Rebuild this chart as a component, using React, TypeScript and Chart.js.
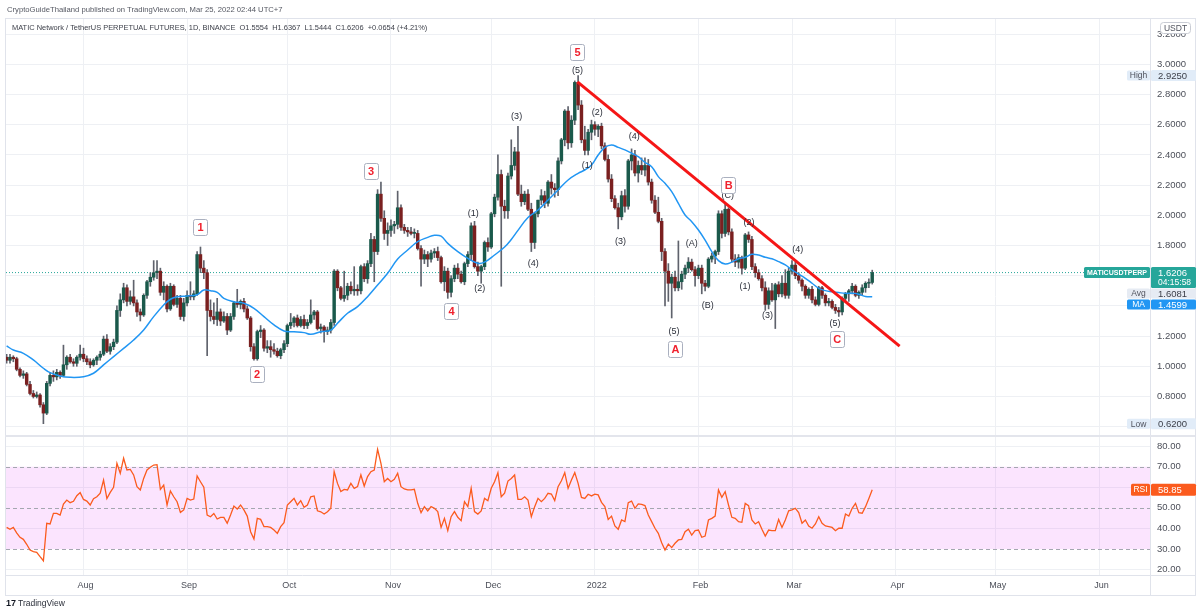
import { useEffect, useRef } from 'react';
import { Chart, registerables } from 'chart.js';

Chart.register(...registerables);

const FONT = "'Liberation Sans', Arial, sans-serif";

// Day numbers are counted from 1 Aug 2021; the first candle is 9 Jul 2021.
const FIRST_DAY = -23;

// Daily candles as [open, high, low, close]
const jul2021 = [
  [1.06, 1.08, 1.02, 1.04], [1.04, 1.08, 1.02, 1.06], [1.06, 1.07, 1.03, 1.05], [1.05, 1.06, 0.97, 0.98],
  [0.98, 0.99, 0.93, 0.94], [0.94, 0.97, 0.92, 0.95], [0.95, 0.96, 0.87, 0.88], [0.88, 0.9, 0.81, 0.82],
  [0.82, 0.84, 0.79, 0.8], [0.8, 0.83, 0.79, 0.81], [0.81, 0.82, 0.73, 0.745], [0.745, 0.76, 0.62, 0.69],
  [0.69, 0.9, 0.68, 0.887], [0.887, 0.96, 0.87, 0.94], [0.94, 0.97, 0.9, 0.93], [0.93, 0.98, 0.91, 0.96],
  [0.96, 0.97, 0.92, 0.94], [0.94, 1.14, 0.93, 1.01], [1.01, 1.07, 0.98, 1.06], [1.06, 1.08, 1.02, 1.03],
  [1.03, 1.05, 1.0, 1.02], [1.02, 1.07, 1.0, 1.06], [1.06, 1.14, 1.04, 1.08],
];
const aug2021 = [
  [1.08, 1.12, 1.03, 1.05], [1.05, 1.07, 1.01, 1.03], [1.03, 1.05, 0.99, 1.01], [1.01, 1.05, 1.0, 1.04],
  [1.04, 1.07, 1.01, 1.06], [1.06, 1.1, 1.04, 1.08], [1.08, 1.2, 1.07, 1.18], [1.18, 1.21, 1.09, 1.1],
  [1.1, 1.15, 1.08, 1.13], [1.13, 1.18, 1.11, 1.16], [1.16, 1.4, 1.15, 1.37], [1.37, 1.48, 1.33, 1.44],
  [1.44, 1.55, 1.42, 1.52], [1.52, 1.54, 1.4, 1.43], [1.43, 1.5, 1.41, 1.46], [1.46, 1.57, 1.4, 1.42],
  [1.42, 1.44, 1.33, 1.36], [1.36, 1.38, 1.3, 1.34], [1.34, 1.48, 1.33, 1.47], [1.47, 1.57, 1.45, 1.56],
  [1.56, 1.62, 1.53, 1.59], [1.59, 1.7, 1.57, 1.62], [1.62, 1.7, 1.58, 1.63], [1.63, 1.65, 1.47, 1.49],
  [1.49, 1.56, 1.44, 1.53], [1.53, 1.54, 1.36, 1.38], [1.38, 1.55, 1.37, 1.53], [1.53, 1.54, 1.4, 1.41],
  [1.41, 1.47, 1.39, 1.45], [1.45, 1.47, 1.31, 1.33], [1.33, 1.45, 1.3, 1.42],
];
const sep2021 = [
  [1.42, 1.5, 1.4, 1.47], [1.47, 1.56, 1.44, 1.46], [1.46, 1.5, 1.44, 1.48], [1.48, 1.76, 1.47, 1.74],
  [1.74, 1.79, 1.62, 1.65], [1.65, 1.7, 1.58, 1.62], [1.62, 1.64, 1.07, 1.37], [1.37, 1.44, 1.3, 1.33],
  [1.33, 1.42, 1.28, 1.31], [1.31, 1.45, 1.27, 1.36], [1.36, 1.38, 1.27, 1.3], [1.3, 1.36, 1.29, 1.33],
  [1.33, 1.35, 1.21, 1.24], [1.24, 1.35, 1.23, 1.33], [1.33, 1.43, 1.31, 1.42], [1.42, 1.51, 1.39, 1.41],
  [1.41, 1.44, 1.38, 1.43], [1.43, 1.45, 1.36, 1.38], [1.38, 1.4, 1.31, 1.32], [1.32, 1.33, 1.1, 1.13],
  [1.13, 1.15, 1.04, 1.05], [1.05, 1.24, 1.04, 1.23], [1.23, 1.27, 1.19, 1.24], [1.24, 1.25, 1.1, 1.12],
  [1.12, 1.17, 1.09, 1.13], [1.13, 1.17, 1.06, 1.11], [1.11, 1.15, 1.08, 1.1], [1.1, 1.12, 1.06, 1.07],
  [1.07, 1.12, 1.05, 1.11], [1.11, 1.17, 1.09, 1.15],
];
const oct2021 = [
  [1.15, 1.28, 1.13, 1.27], [1.27, 1.35, 1.25, 1.29], [1.29, 1.33, 1.26, 1.32], [1.32, 1.34, 1.26, 1.27],
  [1.27, 1.33, 1.26, 1.31], [1.31, 1.34, 1.25, 1.27], [1.27, 1.31, 1.25, 1.29], [1.29, 1.44, 1.28, 1.34],
  [1.34, 1.37, 1.31, 1.36], [1.36, 1.37, 1.24, 1.25], [1.25, 1.28, 1.22, 1.26], [1.26, 1.27, 1.16, 1.23],
  [1.23, 1.26, 1.21, 1.24], [1.24, 1.31, 1.22, 1.29], [1.29, 1.64, 1.27, 1.63], [1.63, 1.64, 1.5, 1.52],
  [1.52, 1.53, 1.44, 1.45], [1.45, 1.63, 1.43, 1.47], [1.47, 1.55, 1.44, 1.53], [1.53, 1.56, 1.48, 1.5],
  [1.5, 1.66, 1.47, 1.51], [1.51, 1.54, 1.47, 1.5], [1.5, 1.67, 1.48, 1.66], [1.66, 1.68, 1.56, 1.58],
  [1.58, 1.7, 1.55, 1.68], [1.68, 1.88, 1.66, 1.84], [1.84, 1.86, 1.56, 1.76], [1.76, 2.17, 1.74, 2.14],
  [2.14, 2.22, 1.96, 1.98], [1.98, 2.03, 1.84, 1.88], [1.88, 1.95, 1.8, 1.9],
];
const nov2021 = [
  [1.9, 1.97, 1.86, 1.93], [1.93, 1.96, 1.88, 1.94], [1.94, 2.16, 1.91, 2.05], [2.05, 2.07, 1.9, 1.92],
  [1.92, 1.94, 1.88, 1.9], [1.9, 1.92, 1.86, 1.89], [1.89, 1.92, 1.87, 1.88], [1.88, 1.91, 1.85, 1.88],
  [1.88, 1.9, 1.77, 1.78], [1.78, 1.8, 1.53, 1.71], [1.71, 1.77, 1.68, 1.74], [1.74, 1.76, 1.66, 1.71],
  [1.71, 1.77, 1.69, 1.75], [1.75, 1.78, 1.72, 1.76], [1.76, 1.79, 1.7, 1.72], [1.72, 1.73, 1.55, 1.56],
  [1.56, 1.66, 1.5, 1.63], [1.63, 1.65, 1.45, 1.49], [1.49, 1.6, 1.46, 1.58], [1.58, 1.67, 1.56, 1.65],
  [1.65, 1.68, 1.58, 1.61], [1.61, 1.63, 1.55, 1.56], [1.56, 1.69, 1.54, 1.68], [1.68, 1.76, 1.66, 1.74],
  [1.74, 1.95, 1.7, 1.93], [1.93, 1.96, 1.65, 1.66], [1.66, 1.69, 1.6, 1.63], [1.63, 1.67, 1.55, 1.66],
  [1.66, 1.83, 1.64, 1.82], [1.82, 1.85, 1.76, 1.79],
];
const dec2021 = [
  [1.79, 2.02, 1.78, 2.01], [2.01, 2.14, 1.99, 2.12], [2.12, 2.4, 2.1, 2.27], [2.27, 2.3, 1.53, 2.06],
  [2.06, 2.1, 1.98, 2.03], [2.03, 2.28, 1.98, 2.26], [2.26, 2.5, 2.24, 2.33], [2.33, 2.45, 2.3, 2.42],
  [2.42, 2.59, 2.13, 2.14], [2.14, 2.2, 2.06, 2.09], [2.09, 2.16, 2.07, 2.14], [2.14, 2.17, 2.03, 2.04],
  [2.04, 2.08, 1.76, 1.82], [1.82, 2.02, 1.78, 2.01], [2.01, 2.1, 1.99, 2.1], [2.1, 2.17, 2.07, 2.13],
  [2.13, 2.16, 2.05, 2.08], [2.08, 2.23, 2.06, 2.22], [2.22, 2.27, 2.14, 2.18], [2.18, 2.21, 2.12, 2.17],
  [2.17, 2.38, 2.13, 2.36], [2.36, 2.51, 2.34, 2.5], [2.5, 2.7, 2.46, 2.69], [2.69, 2.72, 2.44, 2.48],
  [2.48, 2.66, 2.45, 2.63], [2.63, 2.89, 2.6, 2.88], [2.88, 2.925, 2.7, 2.73], [2.73, 2.76, 2.48, 2.5],
  [2.5, 2.59, 2.4, 2.43], [2.43, 2.57, 2.4, 2.55], [2.55, 2.63, 2.5, 2.6],
];
const jan2022 = [
  [2.6, 2.62, 2.53, 2.57], [2.57, 2.6, 2.52, 2.59], [2.59, 2.61, 2.44, 2.46], [2.46, 2.48, 2.36, 2.37],
  [2.37, 2.4, 2.22, 2.24], [2.24, 2.27, 2.09, 2.11], [2.11, 2.13, 2.04, 2.05], [2.05, 2.08, 1.91, 1.99],
  [1.99, 2.16, 1.97, 2.13], [2.13, 2.17, 2.02, 2.06], [2.06, 2.37, 2.04, 2.36], [2.36, 2.44, 2.3, 2.4],
  [2.4, 2.43, 2.26, 2.28], [2.28, 2.36, 2.22, 2.33], [2.33, 2.38, 2.27, 2.3], [2.3, 2.38, 2.26, 2.33],
  [2.33, 2.37, 2.2, 2.22], [2.22, 2.24, 2.08, 2.1], [2.1, 2.13, 2.01, 2.02], [2.02, 2.12, 1.95, 1.96],
  [1.96, 1.98, 1.7, 1.76], [1.76, 1.78, 1.4, 1.63], [1.63, 1.68, 1.43, 1.55], [1.55, 1.61, 1.32, 1.59],
  [1.59, 1.63, 1.5, 1.52], [1.52, 1.83, 1.5, 1.56], [1.56, 1.63, 1.51, 1.61], [1.61, 1.67, 1.58, 1.65],
  [1.65, 1.72, 1.62, 1.69], [1.69, 1.71, 1.63, 1.64], [1.64, 1.66, 1.53, 1.6],
];
const feb2022 = [
  [1.6, 1.67, 1.58, 1.65], [1.65, 1.67, 1.48, 1.55], [1.55, 1.57, 1.5, 1.53], [1.53, 1.72, 1.52, 1.71],
  [1.71, 1.75, 1.69, 1.73], [1.73, 1.77, 1.68, 1.76], [1.76, 2.03, 1.74, 2.01], [2.01, 2.03, 1.85, 1.88],
  [1.88, 2.08, 1.86, 2.04], [2.04, 2.05, 1.87, 1.89], [1.89, 1.91, 1.69, 1.71], [1.71, 1.74, 1.66, 1.69],
  [1.69, 1.74, 1.65, 1.72], [1.72, 1.73, 1.61, 1.65], [1.65, 1.88, 1.64, 1.87], [1.87, 1.89, 1.82, 1.84],
  [1.84, 1.86, 1.64, 1.66], [1.66, 1.68, 1.59, 1.62], [1.62, 1.64, 1.57, 1.58], [1.58, 1.6, 1.5, 1.52],
  [1.52, 1.56, 1.37, 1.41], [1.41, 1.52, 1.38, 1.5], [1.5, 1.55, 1.43, 1.44], [1.44, 1.55, 1.25, 1.54],
  [1.54, 1.56, 1.46, 1.48], [1.48, 1.6, 1.46, 1.55], [1.55, 1.64, 1.45, 1.47], [1.47, 1.65, 1.45, 1.63],
];
const mar2022 = [
  [1.63, 1.7, 1.61, 1.67], [1.67, 1.69, 1.58, 1.6], [1.6, 1.62, 1.55, 1.57], [1.57, 1.58, 1.5, 1.53],
  [1.53, 1.54, 1.45, 1.47], [1.47, 1.52, 1.45, 1.51], [1.51, 1.53, 1.42, 1.44], [1.44, 1.46, 1.4, 1.41],
  [1.41, 1.53, 1.4, 1.52], [1.52, 1.53, 1.45, 1.47], [1.47, 1.48, 1.4, 1.42], [1.42, 1.45, 1.4, 1.43],
  [1.43, 1.44, 1.38, 1.39], [1.39, 1.41, 1.35, 1.37], [1.37, 1.39, 1.33, 1.36], [1.36, 1.46, 1.34, 1.45],
  [1.45, 1.49, 1.43, 1.48], [1.48, 1.51, 1.43, 1.5], [1.5, 1.55, 1.48, 1.53], [1.53, 1.54, 1.46, 1.47],
  [1.47, 1.5, 1.45, 1.49], [1.49, 1.54, 1.47, 1.52], [1.52, 1.56, 1.49, 1.55], [1.55, 1.58, 1.52, 1.5554],
  [1.5554, 1.6367, 1.5444, 1.6206],
];

// RSI(14), one value per candle
const rsiJul = [40.5, 39.6, 40.5, 37.9, 35.7, 34.7, 32.3, 29.5, 28.7, 28.4, 26.3, 24.3, 42.5, 42.2, 47.3, 47.3, 46.5, 51.9, 53.8, 52.5, 53.2, 55.9, 57.4];
const rsiAug = [54.1, 53.3, 51.4, 54.5, 55.4, 57.1, 63.5, 54.5, 57.5, 60.0, 71.6, 66.8, 74.1, 68.4, 68.7, 66.0, 60.3, 58.7, 64.3, 68.4, 69.7, 70.8, 71.0, 59.0, 61.1, 51.4, 58.2, 55.4, 53.0, 47.8, 49.0];
const rsiSep = [54.6, 53.8, 54.3, 65.5, 62.7, 60.0, 46.5, 45.7, 47.3, 44.6, 45.4, 45.4, 42.5, 46.5, 50.9, 49.4, 51.4, 49.0, 46.0, 38.4, 34.9, 44.9, 44.4, 40.9, 40.9, 40.5, 39.2, 37.6, 40.9, 42.8];
const rsiOct = [51.4, 53.0, 54.6, 51.4, 53.5, 50.3, 51.4, 55.4, 55.8, 48.6, 48.1, 47.0, 48.1, 49.8, 67.6, 61.9, 57.9, 59.0, 58.7, 61.9, 59.5, 60.3, 66.0, 60.6, 65.2, 67.6, 68.4, 78.4, 71.6, 62.7, 64.3];
const rsiNov = [62.7, 63.9, 66.8, 60.3, 59.2, 58.7, 58.7, 59.0, 52.2, 47.7, 50.6, 48.5, 50.6, 49.8, 48.2, 40.5, 44.9, 38.9, 45.7, 48.2, 45.4, 43.8, 53.0, 50.6, 59.5, 48.2, 47.0, 48.5, 54.6, 53.5];
const rsiDec = [59.5, 62.7, 67.1, 55.4, 57.1, 63.0, 64.3, 66.0, 54.1, 54.1, 55.4, 53.8, 45.7, 50.6, 54.6, 53.0, 54.6, 57.1, 56.7, 53.5, 60.3, 63.2, 67.1, 59.5, 63.5, 67.1, 61.9, 55.1, 54.6, 56.6, 55.8];
const rsiJan = [56.7, 56.3, 52.7, 50.6, 44.4, 46.0, 41.2, 39.6, 44.1, 43.3, 52.5, 53.3, 49.8, 51.9, 51.7, 51.1, 46.5, 43.3, 40.1, 37.6, 33.1, 29.5, 32.4, 30.7, 32.8, 34.4, 34.7, 38.4, 39.6, 36.8, 38.9];
const rsiFeb = [39.2, 35.7, 36.3, 44.1, 44.9, 46.0, 58.7, 55.1, 57.9, 51.4, 45.4, 44.9, 43.3, 43.0, 52.2, 51.1, 44.1, 42.2, 43.3, 39.6, 36.3, 39.2, 38.9, 38.9, 44.4, 40.5, 44.1, 48.6];
const rsiMar = [49.0, 49.8, 47.7, 42.5, 44.1, 41.2, 40.1, 42.2, 45.7, 42.5, 41.2, 40.9, 40.5, 38.9, 40.1, 40.1, 47.0, 46.0, 49.8, 52.2, 47.7, 47.4, 50.6, 54.6, 58.85];

// Moving average, [day, value]
const maPoints = [
  [-23, 1.135], [-21, 1.108], [-18, 1.086], [-15, 1.042], [-12, 0.987], [-10, 0.958], [-7, 0.936], [-4, 0.927],
  [0, 0.931], [3, 0.954], [6, 1.009], [9, 1.064], [12, 1.119], [15, 1.174], [18, 1.241], [21, 1.329],
  [24, 1.406], [26, 1.444], [28, 1.461], [31, 1.466], [34, 1.474], [36, 1.505], [38, 1.5], [40, 1.49],
  [42, 1.45], [45, 1.428], [48, 1.417], [51, 1.384], [54, 1.329], [57, 1.274], [60, 1.234], [63, 1.229],
  [66, 1.223], [68, 1.212], [71, 1.229], [74, 1.24], [76, 1.285], [79, 1.351], [82, 1.395], [85, 1.461],
  [88, 1.538], [91, 1.616], [94, 1.71], [97, 1.77], [100, 1.825], [103, 1.854], [105, 1.868], [107, 1.862],
  [109, 1.814], [112, 1.759], [115, 1.715], [118, 1.682], [120, 1.69], [123, 1.737], [126, 1.79], [128, 1.84],
  [130, 1.9], [133, 1.985], [136, 2.035], [139, 2.101], [142, 2.168], [145, 2.234], [148, 2.278], [150, 2.3],
  [152, 2.333], [154, 2.399], [156, 2.45], [158, 2.466], [160, 2.45], [162, 2.433], [164, 2.411], [166, 2.388],
  [168, 2.35], [170, 2.322], [172, 2.256], [174, 2.212], [176, 2.157], [178, 2.079], [180, 2.002], [182, 1.958],
  [184, 1.903], [186, 1.836], [188, 1.759], [190, 1.7], [192, 1.678], [194, 1.69], [196, 1.712], [198, 1.722],
  [200, 1.742], [202, 1.737], [204, 1.722], [206, 1.712], [208, 1.693], [210, 1.671], [212, 1.638], [214, 1.611],
  [216, 1.583], [218, 1.55], [220, 1.516], [222, 1.501], [224, 1.494], [226, 1.488], [228, 1.483], [230, 1.483],
  [232, 1.477], [234, 1.462], [236, 1.4599],
];

// Falling trend line, [day, price]
const trendLine = [[147.8, 2.883], [244.2, 1.134]];

// Wave count markers, [text, day, price]
const waveBoxes = [
  ['1', 34.9, 1.924], ['2', 51.8, 0.947], ['3', 85.9, 2.295], ['4', 110.0, 1.368],
  ['5', 147.7, 3.079], ['A', 177.0, 1.112], ['B', 192.9, 2.201], ['C', 225.4, 1.181],
];
const waveLabels = [
  ['(5)', 147.8, 2.962], ['(2)', 153.7, 2.68], ['(3)', 129.6, 2.653], ['(1)', 116.6, 2.013],
  ['(4)', 134.6, 1.682], ['(2)', 118.6, 1.517], ['(1)', 150.7, 2.327], ['(3)', 160.7, 1.825],
  ['(4)', 164.8, 2.521], ['(5)', 176.7, 1.229], ['(A)', 182.0, 1.81], ['(B)', 186.8, 1.404],
  ['(C)', 192.8, 2.134], ['(2)', 199.1, 1.951], ['(1)', 197.9, 1.527], ['(3)', 204.7, 1.333],
  ['(4)', 213.7, 1.775], ['(5)', 224.9, 1.285],
];

const monthTicks = [0, 31, 61, 92, 122, 153, 184, 212, 243, 273, 304];
const monthLabels = ['Aug', 'Sep', 'Oct', 'Nov', 'Dec', '2022', 'Feb', 'Mar', 'Apr', 'May', 'Jun'];
const priceTicks = [0.6, 0.8, 1.0, 1.2, 1.4, 1.6, 1.8, 2.0, 2.2, 2.4, 2.6, 2.8, 3.0, 3.2];
const hiddenPriceLabels = [0.6, 1.4, 1.6];
const rsiTicks = [20, 30, 40, 50, 60, 70, 80];
const rsiBands = [70, 50, 30];

const LAST_PRICE = 1.6206;
const AVG_PRICE = 1.6081;
const MA_LAST = 1.4599;
const HIGH_PRICE = 2.925;
const LOW_PRICE = 0.62;
const RSI_LAST = 58.85;
const COUNTDOWN = '04:15:58';

const TITLE_1 = 'CryptoGuideThailand published on TradingView.com, Mar 25, 2022 02:44 UTC+7';
const TITLE_2 = 'MATIC Network / TetherUS PERPETUAL FUTURES, 1D, BINANCE  O1.5554  H1.6367  L1.5444  C1.6206  +0.0654 (+4.21%)';

const X_MIN = -23.19;
const X_MAX = 319.12;
const PRICE_MIN = 0.5384;
const PRICE_MAX = 3.3066;
const RSI_MIN = 17.38;
const RSI_MAX = 84.92;

const candles = [...jul2021, ...aug2021, ...sep2021, ...oct2021, ...nov2021, ...dec2021, ...jan2022, ...feb2022, ...mar2022];
const rsiValues = [...rsiJul, ...rsiAug, ...rsiSep, ...rsiOct, ...rsiNov, ...rsiDec, ...rsiJan, ...rsiFeb, ...rsiMar];

const UP = '#1a594b';
const DOWN = '#7a2020';
const WICK = '#5f626c';
const GRID = '#eef0f4';
const TEXT = '#4c4f59';

function fillTextFit(ctx: CanvasRenderingContext2D, text: string, x: number, y: number, width: number, weight = '') {
  ctx.font = `${weight} 10px ${FONT}`;
  const w = ctx.measureText(text).width;
  const size = (10 * width) / w;
  ctx.font = `${weight} ${size.toFixed(2)}px ${FONT}`;
  ctx.fillText(text, x, y);
}

function tag(ctx: CanvasRenderingContext2D, x: number, y: number, w: number, h: number, bg: string, text: string, color: string, font: string, align: 'left' | 'center' = 'center') {
  ctx.fillStyle = bg;
  ctx.beginPath();
  ctx.roundRect(x, y, w, h, 1.5);
  ctx.fill();
  ctx.fillStyle = color;
  ctx.font = font;
  ctx.textBaseline = 'middle';
  ctx.textAlign = align;
  ctx.fillText(text, align === 'center' ? x + w / 2 : x + 7, y + h / 2 + 0.5);
}

const overlay = {
  id: 'overlay',
  beforeDatasetsDraw(chart: any) {
    const { ctx, chartArea, scales } = chart;
    const r = scales.rsi;
    const y70 = r.getPixelForValue(70);
    const y30 = r.getPixelForValue(30);
    ctx.save();
    ctx.fillStyle = 'rgba(224, 64, 251, 0.14)';
    ctx.fillRect(chartArea.left, y70, chartArea.right - chartArea.left, y30 - y70);
    ctx.strokeStyle = '#a4a7b0';
    ctx.lineWidth = 1;
    ctx.setLineDash([4, 3]);
    for (const v of rsiBands) {
      const y = Math.round(r.getPixelForValue(v)) + 0.5;
      ctx.beginPath();
      ctx.moveTo(chartArea.left, y);
      ctx.lineTo(chartArea.right, y);
      ctx.stroke();
    }
    ctx.restore();
  },
  afterDatasetsDraw(chart: any) {
    const { ctx, scales } = chart;
    const xs = scales.x;
    const ys = scales.y;
    ctx.save();
    ctx.textAlign = 'center';
    ctx.textBaseline = 'middle';
    ctx.font = `9px ${FONT}`;
    ctx.fillStyle = '#2a2e39';
    for (const [text, day, price] of waveLabels) {
      ctx.fillText(text as string, xs.getPixelForValue(day), ys.getPixelForValue(price));
    }
    for (const [text, day, price] of waveBoxes) {
      const cx = xs.getPixelForValue(day);
      const cy = ys.getPixelForValue(price);
      ctx.fillStyle = '#ffffff';
      ctx.strokeStyle = '#aab0bf';
      ctx.lineWidth = 1;
      ctx.beginPath();
      ctx.roundRect(Math.round(cx - 7) + 0.5, Math.round(cy - 8) + 0.5, 14, 16, 2);
      ctx.fill();
      ctx.stroke();
      ctx.fillStyle = '#f0212e';
      ctx.font = `bold 11px ${FONT}`;
      ctx.fillText(text as string, cx + 0.5, cy + 1);
    }
    ctx.restore();
  },
  afterDraw(chart: any) {
    const { ctx, chartArea, scales } = chart;
    const ys = scales.y;
    const rs = scales.rsi;
    const W = chart.width;
    ctx.save();

    // frame and pane borders
    ctx.strokeStyle = '#e0e3eb';
    ctx.lineWidth = 1;
    ctx.strokeRect(5.5, 18.5, W - 10, 577);
    ctx.beginPath();
    ctx.moveTo(chartArea.right + 0.5, 18);
    ctx.lineTo(chartArea.right + 0.5, 596);
    ctx.moveTo(5, chartArea.bottom + 0.5);
    ctx.lineTo(W - 5, chartArea.bottom + 0.5);
    ctx.stroke();
    ctx.strokeStyle = '#e3e5ec';
    ctx.lineWidth = 2;
    ctx.beginPath();
    ctx.moveTo(5, rs.top);
    ctx.lineTo(W - 5, rs.top);
    ctx.stroke();

    // header
    ctx.textAlign = 'left';
    ctx.textBaseline = 'middle';
    ctx.fillStyle = '#555862';
    fillTextFit(ctx, TITLE_1, 7, 9.5, 276);
    ctx.fillStyle = '#3b3e48';
    fillTextFit(ctx, TITLE_2, 12, 27.5, 416);

    // price scale markers
    const axisX = chartArea.right + 1;
    const tagW = W - 4 - axisX;
    const valueFont = `9.5px ${FONT}`;
    const smallFont = `8.5px ${FONT}`;

    ctx.fillStyle = '#ffffff';
    ctx.strokeStyle = '#c9ccd4';
    ctx.lineWidth = 1;
    ctx.beginPath();
    ctx.roundRect(1160.5, 22.5, 30, 11, 3);
    ctx.fill();
    ctx.stroke();
    ctx.fillStyle = '#50535e';
    ctx.font = smallFont;
    ctx.textAlign = 'center';
    ctx.fillText('USDT', 1175.5, 28.5);

    const lightTag = '#e1ecf8';
    const highY = ys.getPixelForValue(HIGH_PRICE);
    tag(ctx, axisX - 24, highY - 5, 23, 10, lightTag, 'High', '#50535e', smallFont);
    tag(ctx, axisX, highY - 5.5, tagW, 11, lightTag, HIGH_PRICE.toFixed(4), '#3b3e48', valueFont, 'left');

    const lowY = ys.getPixelForValue(LOW_PRICE);
    tag(ctx, axisX - 24, lowY - 5, 23, 10, lightTag, 'Low', '#50535e', smallFont);
    tag(ctx, axisX, lowY - 5.5, tagW, 11, lightTag, LOW_PRICE.toFixed(4), '#3b3e48', valueFont, 'left');

    const lastY = ys.getPixelForValue(LAST_PRICE);
    ctx.fillStyle = '#26a69a';
    ctx.beginPath();
    ctx.roundRect(axisX - 67, lastY - 5.5, 66, 11, 1.5);
    ctx.fill();
    ctx.fillStyle = '#ffffff';
    ctx.textAlign = 'left';
    ctx.textBaseline = 'middle';
    fillTextFit(ctx, 'MATICUSDTPERP', axisX - 64, lastY + 0.5, 60, 'bold');
    ctx.fillStyle = '#26a69a';
    ctx.beginPath();
    ctx.roundRect(axisX, lastY - 5.5, tagW, 21, 1.5);
    ctx.fill();
    ctx.fillStyle = '#ffffff';
    ctx.textAlign = 'left';
    ctx.font = valueFont;
    ctx.fillText(LAST_PRICE.toFixed(4), axisX + 7, lastY + 0.5);
    ctx.font = `8.5px ${FONT}`;
    ctx.fillText(COUNTDOWN, axisX + 7, lastY + 10.5);

    const avgY = lastY + 21;
    tag(ctx, axisX - 24, avgY - 5, 23, 10, '#e6ebf3', 'Avg', '#50535e', smallFont);
    tag(ctx, axisX, avgY - 5, tagW, 10, '#e6ebf3', AVG_PRICE.toFixed(4), '#3b3e48', valueFont, 'left');

    const maY = avgY + 11;
    tag(ctx, axisX - 24, maY - 5, 23, 10, '#2196f3', 'MA', '#ffffff', smallFont);
    tag(ctx, axisX, maY - 5, tagW, 10, '#2196f3', MA_LAST.toFixed(4), '#ffffff', valueFont, 'left');

    const rsiY = rs.getPixelForValue(RSI_LAST);
    tag(ctx, axisX - 20, rsiY - 6, 19, 12, '#fb5b1e', 'RSI', '#ffffff', smallFont);
    tag(ctx, axisX, rsiY - 6, tagW, 12, '#fb5b1e', RSI_LAST.toFixed(2), '#ffffff', valueFont, 'left');

    // footer brand
    ctx.fillStyle = '#131722';
    ctx.textAlign = 'left';
    ctx.font = `bold 9px ${FONT}`;
    ctx.fillText('17', 6, 604);
    ctx.fillStyle = '#2a2e39';
    ctx.font = `8.5px ${FONT}`;
    ctx.fillText('TradingView', 18, 604);

    ctx.restore();
  },
};

export default function App() {
  const canvasRef = useRef<HTMLCanvasElement | null>(null);

  useEffect(() => {
    const canvas = canvasRef.current;
    if (!canvas) return;
    const days = candles.map((_, i) => FIRST_DAY + i);
    const bodies = candles.map((c, i) => ({ x: days[i], y: [c[0], c[3]] }));
    const wicks = candles.map((c, i) => ({ x: days[i], y: [c[2], c[1]] }));
    const bodyColors = candles.map((c) => (c[3] >= c[0] ? UP : DOWN));

    const chart = new Chart(canvas, {
      type: 'bar',
      data: {
        datasets: [
          {
            type: 'line',
            data: [{ x: X_MIN, y: LAST_PRICE }, { x: X_MAX, y: LAST_PRICE }],
            borderColor: '#26a69a',
            borderWidth: 1,
            borderDash: [1, 2],
            pointRadius: 0,
            yAxisID: 'y',
            order: 10,
          },
          {
            type: 'bar',
            data: wicks,
            backgroundColor: WICK,
            barThickness: 1,
            grouped: false,
            yAxisID: 'y',
            order: 9,
          },
          {
            type: 'bar',
            data: bodies,
            backgroundColor: bodyColors,
            barThickness: 2.8,
            minBarLength: 1,
            grouped: false,
            yAxisID: 'y',
            order: 8,
          },
          {
            type: 'line',
            data: maPoints.map(([x, y]) => ({ x, y })),
            borderColor: '#2196f3',
            borderWidth: 1.5,
            pointRadius: 0,
            tension: 0.4,
            yAxisID: 'y',
            order: 5,
          },
          {
            type: 'line',
            data: rsiValues.map((v, i) => ({ x: days[i], y: v })),
            borderColor: '#fb5b1e',
            borderWidth: 1.3,
            pointRadius: 0,
            tension: 0,
            yAxisID: 'rsi',
            order: 4,
          },
          {
            type: 'line',
            data: trendLine.map(([x, y]) => ({ x, y })),
            borderColor: '#f51616',
            borderWidth: 3,
            pointRadius: 0,
            yAxisID: 'y',
            order: 1,
          },
        ] as any,
      },
      options: {
        responsive: false,
        animation: false,
        events: [],
        layout: { padding: { top: 18, left: 6, right: 0, bottom: 18 } },
        plugins: { legend: { display: false }, tooltip: { enabled: false } },
        scales: {
          x: {
            type: 'linear',
            offset: false,
            min: X_MIN,
            max: X_MAX,
            afterBuildTicks: (s: any) => {
              s.ticks = monthTicks.map((value) => ({ value }));
            },
            afterFit: (s: any) => {
              s.height = 21;
            },
            ticks: {
              autoSkip: false,
              maxRotation: 0,
              padding: 5,
              labelOffset: 2,
              color: TEXT,
              font: { size: 9, family: FONT },
              callback: (v: any) => monthLabels[monthTicks.indexOf(v)] ?? '',
            },
            grid: { color: GRID, drawTicks: false, offset: false },
            border: { display: false },
          },
          y: {
            type: 'linear',
            position: 'right',
            stack: 'panes',
            stackWeight: 418,
            min: PRICE_MIN,
            max: PRICE_MAX,
            afterBuildTicks: (s: any) => {
              s.ticks = priceTicks.map((value) => ({ value }));
            },
            afterFit: (s: any) => {
              s.width = 50;
            },
            ticks: {
              autoSkip: false,
              padding: 7,
              color: TEXT,
              font: { size: 9.5, family: FONT },
              callback: (v: any) => (hiddenPriceLabels.some((h) => Math.abs(h - v) < 1e-6) ? '' : Number(v).toFixed(4)),
            },
            grid: { color: GRID, drawTicks: false },
            border: { display: false },
          },
          rsi: {
            type: 'linear',
            position: 'right',
            stack: 'panes',
            stackWeight: 139,
            min: RSI_MIN,
            max: RSI_MAX,
            afterBuildTicks: (s: any) => {
              s.ticks = rsiTicks.map((value) => ({ value }));
            },
            afterFit: (s: any) => {
              s.width = 50;
            },
            ticks: {
              autoSkip: false,
              padding: 7,
              color: TEXT,
              font: { size: 9.5, family: FONT },
              callback: (v: any) => Number(v).toFixed(2),
            },
            grid: {
              drawTicks: false,
              color: (c: any) => (c.tick && c.tick.value % 20 === 0 ? GRID : 'rgba(0,0,0,0)'),
            },
            border: { display: false },
          },
        },
      } as any,
      plugins: [overlay],
    });
    return () => chart.destroy();
  }, []);

  return (
    <div style={{ position: 'absolute', left: 0, top: 0, width: 1200, height: 614, background: '#ffffff' }}>
      <canvas ref={canvasRef} width={1200} height={614} style={{ width: 1200, height: 614, display: 'block' }} />
    </div>
  );
}
